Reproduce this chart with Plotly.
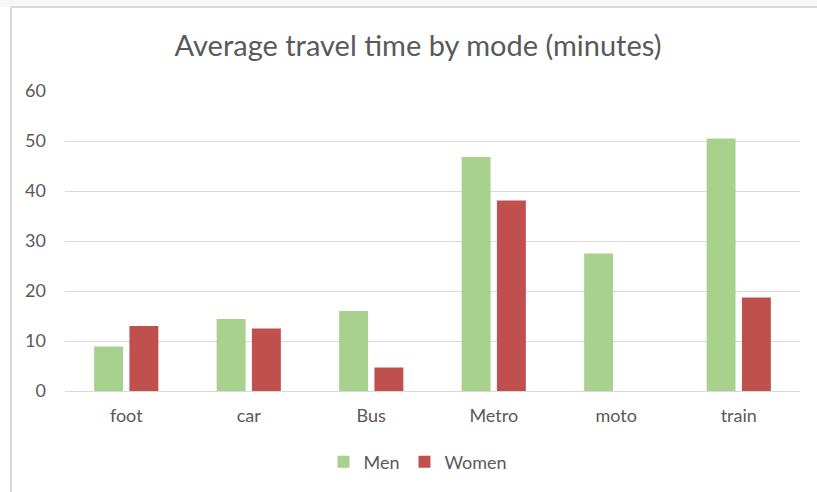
import plotly.graph_objects as go

# Travel modes and average travel time (minutes)
modes = ["foot", "car", "Bus", "Metro", "moto", "train"]
men = [8.9, 14.4, 16.0, 46.8, 27.5, 50.5]
women = [13.0, 12.5, 4.7, 38.1, 0, 18.7]
y_ticks = [0, 10, 20, 30, 40, 50, 60]

GREEN = "#A9D18E"
RED = "#C0504D"
TEXT = "#595959"
GRID = "#D9D9D9"
FONT = "Lato"

fig = go.Figure()
fig.add_trace(go.Bar(name="Men", x=modes, y=men, marker=dict(color=GREEN, line=dict(width=0))))
fig.add_trace(go.Bar(name="Women", x=modes, y=women, marker=dict(color=RED, line=dict(width=0))))

# plot area spans x 65..800 px, y 91..391 px
W, H = 817, 492
L, R, T, B = 65, 17, 91, 101
pw, ph = W - L - R, H - T - B

def px_x(px):
    return (px - L) / pw

def px_y(py):
    return (H - B - py) / ph

shapes = [
    # light band above the chart frame
    dict(type="rect", xref="paper", yref="paper", x0=px_x(0), x1=px_x(W), y0=px_y(7), y1=px_y(0),
         fillcolor="#F7F7F7", line=dict(width=0), layer="below"),
    # chart frame: top and left edges
    dict(type="line", xref="paper", yref="paper", x0=px_x(11), x1=px_x(W), y0=px_y(7), y1=px_y(7),
         line=dict(color="#D9D9D9", width=2)),
    dict(type="line", xref="paper", yref="paper", x0=px_x(11), x1=px_x(11), y0=px_y(7), y1=px_y(W),
         line=dict(color="#D9D9D9", width=2)),
]

fig.update_layout(
    width=W, height=H,
    margin=dict(l=L, r=R, t=T, b=B),
    paper_bgcolor="white", plot_bgcolor="white",
    barmode="group", bargap=0.424, bargroupgap=0.18,
    title=dict(text="Average travel time by mode (minutes)", x=418 / W, xanchor="center",
               y=1 - 46 / H, yanchor="middle", font=dict(family=FONT, size=29, color=TEXT)),
    font=dict(family=FONT, color=TEXT, size=18),
    showlegend=True,
    legend=dict(orientation="h", x=px_x(418), xanchor="center", y=px_y(462), yanchor="middle",
                font=dict(family=FONT, size=18, color=TEXT), itemwidth=30, traceorder="normal"),
    xaxis=dict(showgrid=False, showline=False, ticks="", tickfont=dict(size=18, color=TEXT),
               ticklabelstandoff=12, fixedrange=True),
    yaxis=dict(range=[0, 60], tickvals=y_ticks, showgrid=True, gridcolor=GRID, gridwidth=1,
               zeroline=True, zerolinecolor=GRID, zerolinewidth=1, showline=False, ticks="",
               ticklabelstandoff=18, tickfont=dict(size=18, color=TEXT)),
    shapes=shapes,
)

fig.write_html("out.html")
